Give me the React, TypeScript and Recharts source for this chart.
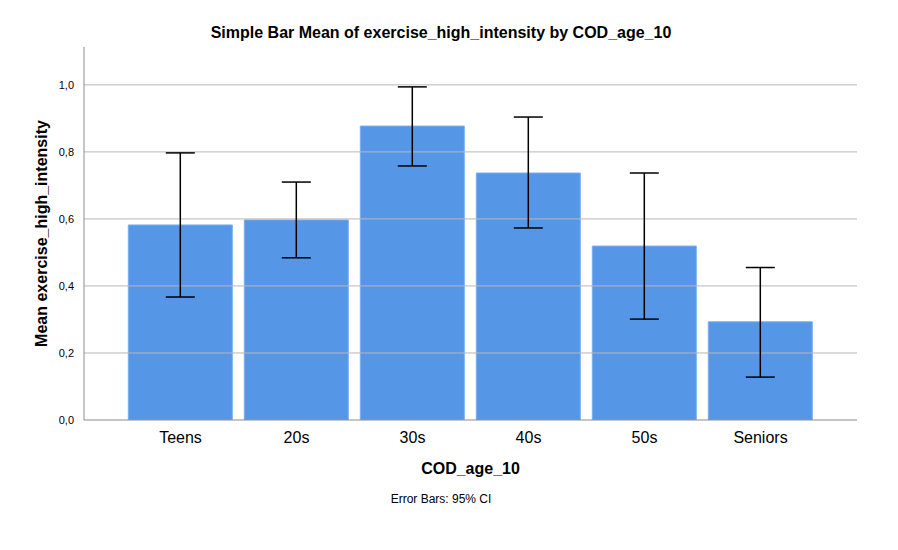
import { BarChart, Bar, XAxis, YAxis, ReferenceLine, ErrorBar, Label } from "recharts";

const categories = ["Teens", "20s", "30s", "40s", "50s", "Seniors"];
const means = [0.582, 0.597, 0.877, 0.737, 0.519, 0.293];
const ciLow = [0.367, 0.484, 0.758, 0.573, 0.301, 0.128];
const ciHigh = [0.797, 0.71, 0.994, 0.904, 0.737, 0.455];
const yTicks = [0, 0.2, 0.4, 0.6, 0.8, 1.0];

const data = categories.map((c, i) => ({
  name: c,
  mean: means[i],
  err: [means[i] - ciLow[i], ciHigh[i] - means[i]],
}));

const font = "'Liberation Sans', Arial, sans-serif";

export default function App() {
  return (
    <div style={{ position: "absolute", left: 0, top: 0, width: 898, height: 550, background: "#fff", fontFamily: font }}>
      <div
        style={{
          position: "absolute",
          top: 24,
          left: 0,
          width: 882,
          textAlign: "center",
          fontSize: 16,
          fontWeight: "bold",
          color: "#000",
        }}
      >
        Simple Bar Mean of exercise_high_intensity by COD_age_10
      </div>
      <BarChart
        width={898}
        height={550}
        data={data}
        margin={{ top: 47, right: 41, left: 0, bottom: 100 }}
        barCategoryGap="5%"
      >
        {/* gridlines only at the tick values, no line at the domain top */}
        {yTicks.slice(1).map((t) => (
          <ReferenceLine key={t} y={t} stroke="#b8b8b8" ifOverflow="extendDomain" />
        ))}
        <XAxis
          dataKey="name"
          height={30}
          padding={{ left: 38.5, right: 38.5 }}
          axisLine={{ stroke: "#8c8c8c" }}
          tickLine={false}
          tick={{ fill: "#000", fontSize: 16, fontFamily: font }}
          tickMargin={6}
        >
          <Label
            content={({ viewBox }: any) => (
              <text
                x={viewBox.x + viewBox.width / 2}
                y={474}
                textAnchor="middle"
                fontSize={16}
                fontWeight="bold"
                fontFamily={font}
                fill="#000"
              >
                COD_age_10
              </text>
            )}
          />
        </XAxis>
        <YAxis
          width={84}
          domain={[0, 1.113]}
          ticks={yTicks}
          allowDataOverflow
          axisLine={{ stroke: "#8c8c8c" }}
          tickLine={false}
          tickMargin={4}
          tick={{ fill: "#000", fontSize: 11, fontFamily: font }}
          tickFormatter={(v: number) => v.toFixed(1).replace(".", ",")}
        >
          <Label
            content={({ viewBox }: any) => (
              <text
                x={47}
                y={viewBox.y + viewBox.height / 2}
                transform={`rotate(-90, 47, ${viewBox.y + viewBox.height / 2})`}
                textAnchor="middle"
                fontSize={16}
                fontWeight="bold"
                fontFamily={font}
                fill="#000"
              >
                Mean exercise_high_intensity
              </text>
            )}
          />
        </YAxis>
        <Bar dataKey="mean" fill="#5596e6" stroke="#78aef0" strokeWidth={1} isAnimationActive={false}>
          <ErrorBar dataKey="err" width={14.5} stroke="#000" strokeWidth={1.5} direction="y" />
        </Bar>
      </BarChart>
      <div
        style={{
          position: "absolute",
          top: 492,
          left: 0,
          width: 882,
          textAlign: "center",
          fontSize: 12,
          color: "#000",
        }}
      >
        Error Bars: 95% CI
      </div>
    </div>
  );
}
